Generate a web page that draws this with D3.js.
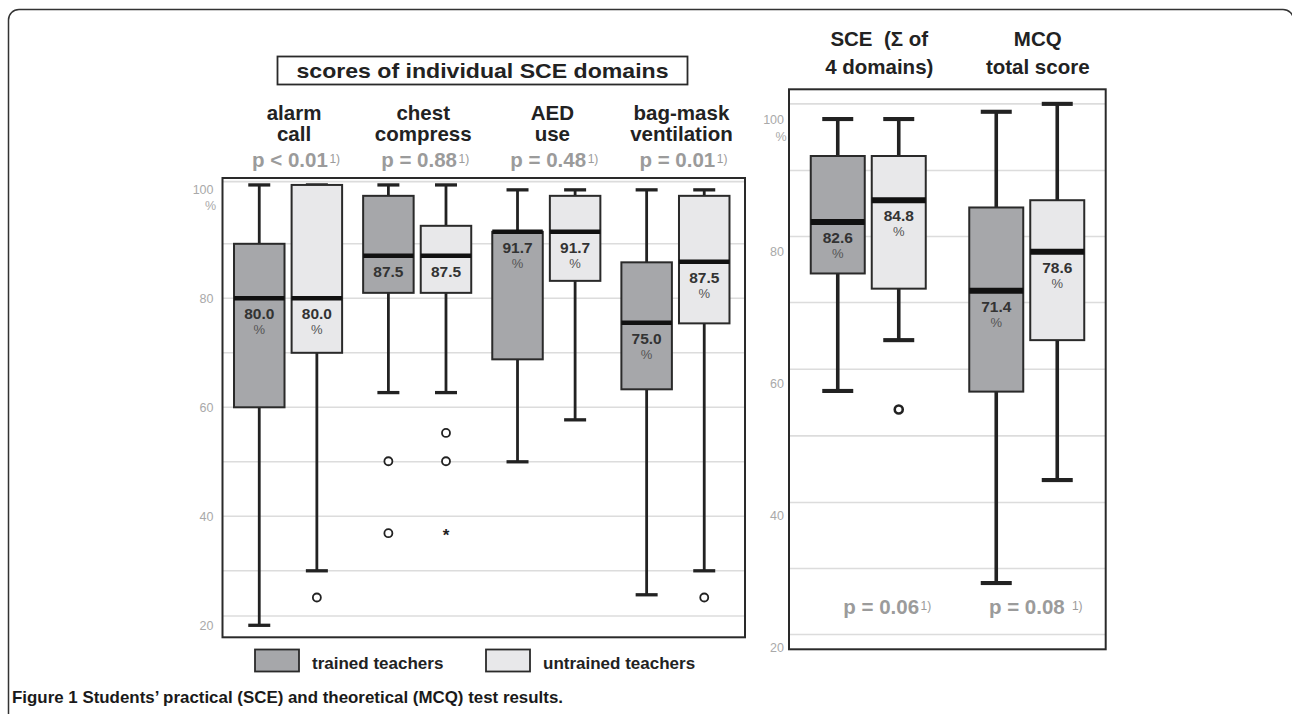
<!DOCTYPE html>
<html><head><meta charset="utf-8">
<script src="https://cdn.jsdelivr.net/npm/d3@7"></script>
<style>
html,body{margin:0;padding:0;background:#fff;}
svg{display:block;}
text{font-family:"Liberation Sans",Arial,Helvetica,sans-serif;}
</style></head>
<body>
<svg id="chart" width="1292" height="714"></svg>
<script>
// ---------- DATA ----------
const panelTitle = "scores of individual SCE domains";
const domainNames = ["alarm call", "chest compress", "AED use", "bag-mask ventilation"];
const domainLines = [["alarm", "call"], ["chest", "compress"], ["AED", "use"], ["bag-mask", "ventilation"]];
const domainP = ["p < 0.01", "p = 0.88", "p = 0.48", "p = 0.01"];
const groups = ["trained teachers", "untrained teachers"];

// left panel, per domain (%)
const trainedMin    = [20.0, 62.7, 50.0, 25.6];
const trainedQ1     = [60.0, 81.0, 68.8, 63.3];
const trainedMedian = [80.0, 87.8, 92.2, 75.5];
const trainedQ3     = [90.0, 98.8, 92.2, 86.6];
const trainedMax    = [100.8, 100.8, 99.9, 99.9];
const trainedLabel  = ["80.0", "87.5", "91.7", "75.0"];

const untrainedMin    = [30.0, 62.7, 57.7, 30.0];
const untrainedQ1     = [70.0, 81.0, 83.2, 75.4];
const untrainedMedian = [80.0, 87.8, 92.2, 86.7];
const untrainedQ3     = [100.8, 93.3, 98.8, 98.8];
const untrainedMax    = [100.8, 100.8, 99.9, 99.9];
const untrainedLabel  = ["80.0", "87.5", "91.7", "87.5"];

const showPercent = [true, false, true, true];

// outliers of left panel
const outlierDomain = ["alarm call", "chest compress", "chest compress", "chest compress", "chest compress", "chest compress", "bag-mask ventilation"];
const outlierGroup  = ["untrained teachers", "trained teachers", "trained teachers", "untrained teachers", "untrained teachers", "untrained teachers", "untrained teachers"];
const outlierValue  = [25.1, 50.1, 36.9, 55.3, 50.1, 36.9, 25.1];
const outlierKind   = ["circle", "circle", "circle", "circle", "circle", "star", "circle"];

// right panel (totals)
const totalNames = ["SCE", "MCQ"];
const totalLines = [["SCE  (\u03A3 of", "4 domains)"], ["MCQ", "total score"]];
const totalP = ["p = 0.06", "p = 0.08 "];
const totTrainedMin    = [58.9, 29.8];
const totTrainedQ1     = [76.7, 58.8];
const totTrainedMedian = [84.5, 74.1];
const totTrainedQ3     = [94.5, 86.7];
const totTrainedMax    = [100.1, 101.2];
const totTrainedLabel  = ["82.6", "71.4"];
const totUntrainedMin    = [66.6, 45.4];
const totUntrainedQ1     = [74.4, 66.6];
const totUntrainedMedian = [87.8, 80.0];
const totUntrainedQ3     = [94.5, 87.8];
const totUntrainedMax    = [100.1, 102.4];
const totUntrainedLabel  = ["84.8", "78.6"];
const totOutlierName  = ["SCE"];
const totOutlierGroup = ["untrained teachers"];
const totOutlierValue = [56.1];

const tickValues = [20, 40, 60, 80, 100];
const leftGrid  = [101.4, 90, 80, 70, 60, 50, 40, 30, 21.7];
const rightGrid = [102.4, 92.3, 82.3, 72.3, 62.2, 52.1, 42.0, 32.0, 22.0];

const caption = ["Figure 1", " Students\u2019 practical (SCE) and theoretical (MCQ) test results."];

// ---------- STYLE ----------
const fillTrained = "#a6a7aa", fillUntrained = "#e8e8ea";
const dark = "#222";
const gridCol = "#dcdcdc";
const pCol = "#9b9b9b";
const tickCol = "#a9a9a9";
const groupFill = {"trained teachers": fillTrained, "untrained teachers": fillUntrained};

const svg = d3.select("#chart");

// outer figure border
svg.append("path")
  .attr("d", "M8.5,716 V20 A10.5,10.5 0 0 1 19,9.5 H1283 A10.5,10.5 0 0 1 1293.5,20 V716")
  .attr("fill", "none").attr("stroke", "#333").attr("stroke-width", 1.5);

// ---------- helpers ----------
function buildRows(names, arrs) {
  return names.map((n, i) => ({
    name: n, i,
    series: [
      {group: groups[0], min: arrs[0][i], q1: arrs[1][i], med: arrs[2][i], q3: arrs[3][i], max: arrs[4][i], label: arrs[5][i]},
      {group: groups[1], min: arrs[6][i], q1: arrs[7][i], med: arrs[8][i], q3: arrs[9][i], max: arrs[10][i], label: arrs[11][i]}
    ]
  }));
}

function drawPanel(cfg) {
  const g = svg.append("g");
  const {x0, x1, y, frameTop, frameBottom, xBand, xSub, rows, grid, boxW, capW, whiskerW, medW, showPct, labelPad} = cfg;

  g.selectAll("line.grid").data(grid).join("line")
    .attr("x1", x0).attr("x2", x1)
    .attr("y1", d => y(d)).attr("y2", d => y(d))
    .attr("stroke", gridCol).attr("stroke-width", 1.6);

  const ax = d3.axisLeft(y).tickValues(tickValues).tickSize(0).tickPadding(labelPad).tickFormat(d3.format("d"));
  const axG = g.append("g").attr("transform", `translate(${x0},0)`).call(ax);
  axG.select(".domain").remove();
  axG.selectAll("text").attr("fill", tickCol).attr("font-size", 12.5)
    .attr("font-family", "'Liberation Sans',Arial,sans-serif");
  axG.selectAll(".tick").filter(d => d === 100).append("text")
    .attr("x", -labelPad - 3).attr("dy", "1.65em").attr("fill", tickCol)
    .attr("font-size", 12.5).attr("text-anchor", "middle").text("%");

  const rowG = g.selectAll("g.row").data(rows).join("g")
    .attr("transform", d => `translate(${xBand(d.name) + xBand.bandwidth() / 2},0)`);
  const sG = rowG.selectAll("g.s").data(d => d.series.map(s => Object.assign({row: d}, s))).join("g")
    .attr("transform", d => `translate(${xSub(d.group)},0)`);

  sG.append("line").attr("x1", 0).attr("x2", 0)
    .attr("y1", d => y(d.max)).attr("y2", d => y(d.min))
    .attr("stroke", dark).attr("stroke-width", whiskerW);
  sG.append("line").attr("x1", -capW / 2).attr("x2", capW / 2)
    .attr("y1", d => y(d.max)).attr("y2", d => y(d.max))
    .attr("stroke", dark).attr("stroke-width", whiskerW + 0.5);
  sG.append("line").attr("x1", -capW / 2).attr("x2", capW / 2)
    .attr("y1", d => y(d.min)).attr("y2", d => y(d.min))
    .attr("stroke", dark).attr("stroke-width", whiskerW + 0.5);
  sG.append("rect")
    .attr("x", -boxW / 2).attr("width", boxW)
    .attr("y", d => y(d.q3)).attr("height", d => y(d.q1) - y(d.q3))
    .attr("fill", d => groupFill[d.group]).attr("stroke", "#2a2a2a").attr("stroke-width", 2);
  sG.append("line").attr("x1", -boxW / 2).attr("x2", boxW / 2)
    .attr("y1", d => y(d.med)).attr("y2", d => y(d.med))
    .attr("stroke", "#111").attr("stroke-width", medW);
  sG.append("text").attr("text-anchor", "middle")
    .attr("y", d => y(d.med) + 21)
    .attr("font-size", 15.5).attr("font-weight", "bold").attr("fill", "#333")
    .text(d => d.label);
  sG.filter(d => showPct(d.row)).append("text").attr("text-anchor", "middle")
    .attr("y", d => y(d.med) + 36)
    .attr("font-size", 13).attr("fill", "#555")
    .text("%");

  g.append("rect").attr("x", x0).attr("y", frameTop).attr("width", x1 - x0).attr("height", frameBottom - frameTop)
    .attr("fill", "none").attr("stroke", "#2a2a2a").attr("stroke-width", 2);
  return g;
}

function pText(g, x, yb, main, size) {
  const t = g.append("text").attr("x", x).attr("y", yb).attr("text-anchor", "middle")
    .attr("fill", pCol).attr("font-size", size).attr("font-weight", "bold");
  t.append("tspan").text(main);
  t.append("tspan").attr("font-size", 12).attr("font-weight", "normal").attr("dx", 1.5).attr("dy", -4).text("1)");
}

// ---------- LEFT PANEL ----------
const yL = d3.scaleLinear().domain([20, 100]).range([625.3, 189.3]);
const xL = d3.scaleBand().domain(domainNames).range([223.5, 740]);
const xLSub = d3.scaleOrdinal().domain(groups).range([-28.8, 28.8]);
const leftRows = buildRows(domainNames, [trainedMin, trainedQ1, trainedMedian, trainedQ3, trainedMax, trainedLabel,
  untrainedMin, untrainedQ1, untrainedMedian, untrainedQ3, untrainedMax, untrainedLabel]);

const gL = drawPanel({x0: 222.5, x1: 745, y: yL, frameTop: 178, frameBottom: 637.3, xBand: xL, xSub: xLSub,
  rows: leftRows, grid: leftGrid, boxW: 50.5, capW: 22, whiskerW: 2.8, medW: 4.5,
  showPct: r => showPercent[r.i], labelPad: 9});

const outl = outlierValue.map((v, i) => ({d: outlierDomain[i], g: outlierGroup[i], v, k: outlierKind[i]}));
const ox = o => xL(o.d) + xL.bandwidth() / 2 + xLSub(o.g);
gL.selectAll("circle.out").data(outl.filter(o => o.k === "circle")).join("circle")
  .attr("cx", ox).attr("cy", o => yL(o.v)).attr("r", 4)
  .attr("fill", "#fff").attr("stroke", dark).attr("stroke-width", 1.8);
gL.selectAll("text.star").data(outl.filter(o => o.k === "star")).join("text")
  .attr("x", ox).attr("y", o => yL(o.v) + 8).attr("text-anchor", "middle")
  .attr("font-size", 17).attr("font-weight", "bold").attr("fill", dark).text("*");

domainNames.forEach((n, i) => {
  const cx = xL(n) + xL.bandwidth() / 2 + 6;
  domainLines[i].forEach((ln, j) => {
    svg.append("text").attr("x", cx).attr("y", 120 + j * 21).attr("text-anchor", "middle")
      .attr("font-size", 20.5).attr("font-weight", "bold").attr("fill", "#222").text(ln);
  });
  pText(svg, cx + 2, 167.3, domainP[i], 20.5);
});

svg.append("rect").attr("x", 277.5).attr("y", 56.5).attr("width", 410).attr("height", 28)
  .attr("fill", "#fff").attr("stroke", "#2a2a2a").attr("stroke-width", 1.8);
svg.append("text").attr("x", 482.5).attr("y", 78).attr("text-anchor", "middle")
  .attr("font-size", 21).attr("font-weight", "bold").attr("fill", "#222")
  .attr("textLength", 372).attr("lengthAdjust", "spacingAndGlyphs").text(panelTitle);

groups.forEach((gname, i) => {
  const lx = [255, 486][i];
  svg.append("rect").attr("x", lx).attr("y", 649.5).attr("width", 44).attr("height", 22)
    .attr("fill", groupFill[gname]).attr("stroke", "#2a2a2a").attr("stroke-width", 1.8);
  svg.append("text").attr("x", lx + 57).attr("y", 669).attr("font-size", 17).attr("font-weight", "bold")
    .attr("fill", "#222").text(gname);
});

// ---------- RIGHT PANEL ----------
const yR = d3.scaleLinear().domain([20, 100]).range([647.7, 119.7]);
const xR = d3.scaleBand().domain(totalNames).range([789, 1106]);
const xRSub = d3.scaleOrdinal().domain(groups).range([-30.5, 30.5]);
const rightRows = buildRows(totalNames, [totTrainedMin, totTrainedQ1, totTrainedMedian, totTrainedQ3, totTrainedMax, totTrainedLabel,
  totUntrainedMin, totUntrainedQ1, totUntrainedMedian, totUntrainedQ3, totUntrainedMax, totUntrainedLabel]);

const gR = drawPanel({x0: 789, x1: 1105.7, y: yR, frameTop: 89.3, frameBottom: 649.3, xBand: xR, xSub: xRSub,
  rows: rightRows, grid: rightGrid, boxW: 54, capW: 31, whiskerW: 3.6, medW: 6,
  showPct: () => true, labelPad: 5});

gR.selectAll("circle.out").data(totOutlierValue.map((v, i) => ({n: totOutlierName[i], g: totOutlierGroup[i], v}))).join("circle")
  .attr("cx", o => xR(o.n) + xR.bandwidth() / 2 + xRSub(o.g)).attr("cy", o => yR(o.v)).attr("r", 4)
  .attr("fill", "#fff").attr("stroke", dark).attr("stroke-width", 2.6);

totalNames.forEach((n, i) => {
  const cx = xR(n) + xR.bandwidth() / 2 + 11;
  totalLines[i].forEach((ln, j) => {
    svg.append("text").attr("x", cx).attr("y", 45.7 + j * 28.3).attr("text-anchor", "middle")
      .attr("font-size", 20.5).attr("font-weight", "bold").attr("fill", "#222")
      .style("white-space", "pre").text(ln);
  });
  pText(svg, xR(n) + xR.bandwidth() / 2 + 15 + (i === 1 ? -6 : 4), 614, totalP[i], 20.5);
});

// ---------- CAPTION ----------
const cap = svg.append("text").attr("x", 12).attr("y", 702.5)
  .attr("font-family", "'Open Sans',Arial,sans-serif").attr("font-size", 16.5).attr("fill", "#1a1a1a")
  .attr("textLength", 551).attr("lengthAdjust", "spacingAndGlyphs");
cap.append("tspan").attr("font-weight", 700).text(caption[0]);
cap.append("tspan").attr("font-weight", 600).text(caption[1]);
</script>
</body></html>
